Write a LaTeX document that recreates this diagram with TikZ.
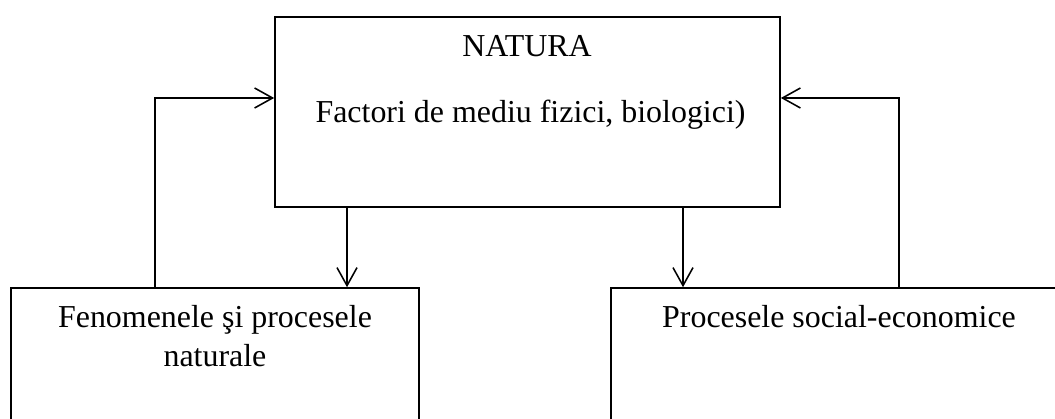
\documentclass[tikz,border=0pt]{standalone}
\usepackage{fontspec}
\setmainfont{Liberation Serif}
\usetikzlibrary{arrows.meta}

\begin{document}
\begin{tikzpicture}[x=0.025cm,y=-0.025cm,
    box/.style={draw,line width=1.1pt,inner sep=0pt},
    lbl/.style={anchor=base,inner sep=0pt,font=\fontsize{22.7}{27.7}\selectfont},
    arr/.style={line width=1.1pt,-{Straight Barb[length=0.45cm,width=0.5cm,line width=1.1pt]}}]
  \path[use as bounding box,clip] (0,0) rectangle (1055,419);

  % boxes
  \node[box,minimum width=12.625cm,minimum height=4.75cm] (natura) at (527.5,112) {};
  \node[box,minimum width=10.2cm,minimum height=4.05cm] (fenomene) at (215,369) {};
  \node[box,minimum width=11.4cm,minimum height=4.05cm] (social) at (839,369) {};

  \node[lbl] (naturaTitle) at (527,57) {NATURA};
  \node[lbl] (naturaText) at (530.5,123) {Factori de mediu fizici, biologici)};
  \node[lbl] (fenText1) at (215,328) {Fenomenele şi procesele};
  \node[lbl] (fenText2) at (215,367) {naturale};
  \node[lbl] (socText) at (839,328) {Procesele social-economice};

  % connectors
  \coordinate (downL) at (347,0);
  \coordinate (downR) at (683,0);
  \coordinate (backL) at (155,98);
  \coordinate (backR) at (899,98);
  \draw[arr] (natura.south -| downL) -- (fenomene.north -| downL);
  \draw[arr] (natura.south -| downR) -- (social.north -| downR);
  \draw[arr] (fenomene.north -| backL) |- (natura.west |- backL);
  \draw[arr] (social.north -| backR) |- (natura.east |- backR);
\end{tikzpicture}
\end{document}
